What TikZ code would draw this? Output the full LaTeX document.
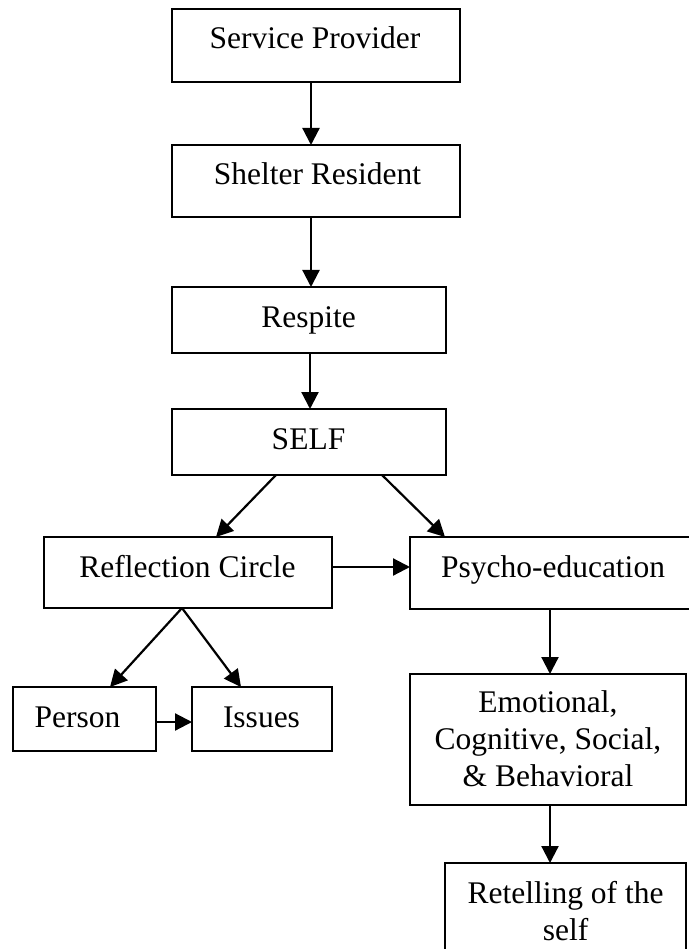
\documentclass[tikz,border=0pt]{standalone}
\usepackage{fontspec}
\setmainfont{Liberation Serif}
\usetikzlibrary{arrows.meta,calc}
\begin{document}
\begin{tikzpicture}[x=1pt,y=-1pt,
  box/.style={draw=black,line width=2.8pt,rectangle,inner sep=0pt,outer sep=0pt},
  txt/.style={inner sep=0pt,outer sep=0pt,font=\fontsize{31.5}{37}\selectfont,align=center},
  arr/.style={line width=2.2pt,-{Triangle[length=17pt,width=17pt]}}]
\useasboundingbox (0,0) rectangle (688,949);
% boxes
\node[box,minimum width=288pt,minimum height=73pt] (sp) at (316,45.5) {};
\node[box,minimum width=288pt,minimum height=72pt] (sr) at (316,181) {};
\node[box,minimum width=274pt,minimum height=66pt] (re) at (309,320) {};
\node[box,minimum width=274pt,minimum height=66pt] (self) at (309,442) {};
\node[box,minimum width=288pt,minimum height=71pt] (rc) at (188,572.5) {};
\node[box,minimum width=286pt,minimum height=72pt] (pe) at (553,573) {};
\node[box,minimum width=143pt,minimum height=64pt] (pn) at (84.5,719) {};
\node[box,minimum width=140pt,minimum height=64pt] (is) at (262,719) {};
\node[box,minimum width=276pt,minimum height=131pt] (em) at (548,739.5) {};
\node[box,minimum width=241pt,minimum height=97pt] (rt) at (565.5,911.5) {};
% texts
\node[txt,anchor=base] (tsp) at (315,49) {Service Provider};
\node[txt,anchor=base] (tsr) at (317.5,185) {Shelter Resident};
\node[txt,anchor=base] (tre) at (308.5,327) {Respite};
\node[txt,anchor=base] (tself) at (308.5,449) {SELF};
\node[txt,anchor=base] (trc) at (187.5,577) {Reflection Circle};
\node[txt,anchor=base] (tpe) at (553,577) {Psycho-education};
\node[txt,anchor=base] (tpn) at (77.5,727) {Person};
\node[txt,anchor=base] (tis) at (261.5,727) {Issues};
\node[txt,anchor=north] (tem) at (548,691) {Emotional,\\Cognitive, Social,\\\& Behavioral};
\node[txt,anchor=north] (trt) at (565.5,881) {Retelling of the\\self};
% connectors
\draw[arr] ([xshift=-5pt]sp.south) -- ([xshift=-5pt]sr.north);
\draw[arr] ([xshift=-5pt]sr.south) -- ([xshift=2pt]re.north);
\draw[arr] ([xshift=1pt]re.south) -- ([xshift=1pt]self.north);
\draw[arr] ([xshift=-33pt]self.south) -- ([xshift=28pt]rc.north);
\draw[arr] ([xshift=73pt]self.south) -- ([xshift=-108pt]pe.north);
\draw[arr] ([yshift=5.5pt]rc.east) -- ([yshift=6pt]pe.west);
\draw[arr] ([xshift=-6pt]rc.south) -- ([xshift=25.5pt]pn.north);
\draw[arr] ([xshift=-6pt]rc.south) -- ([xshift=-21pt]is.north);
\draw[arr] ([yshift=-3pt]pn.east) -- ([yshift=-3pt]is.west);
\draw[arr] ([xshift=-3pt]pe.south) -- ([xshift=2pt]em.north);
\draw[arr] ([xshift=2pt]em.south) -- ([xshift=-15.5pt]rt.north);
\end{tikzpicture}
\end{document}
